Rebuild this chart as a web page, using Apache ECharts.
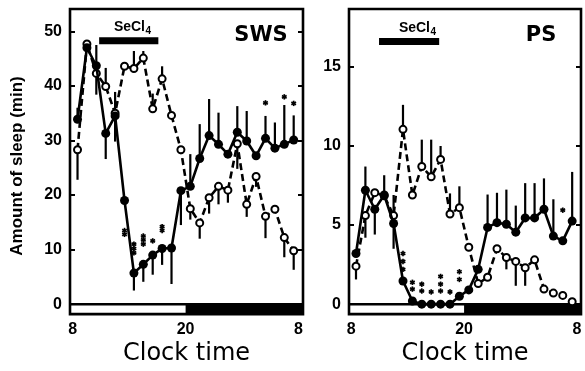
<!DOCTYPE html>
<html><head><meta charset="utf-8">
<script src="https://cdn.jsdelivr.net/npm/echarts@6/dist/echarts.min.js"></script>
<style>html,body{margin:0;padding:0;background:#fff}#c{width:585px;height:371px}</style>
</head><body><div id="c"></div>
<script>
// ---- data ----
const hours = [8.5,9.5,10.5,11.5,12.5,13.5,14.5,15.5,16.5,17.5,18.5,19.5,20.5,21.5,22.5,23.5,24.5,25.5,26.5,27.5,28.5,29.5,30.5,31.5];
const xTickValues = [8, 20, 32];
const swsTickValues = [0, 10, 20, 30, 40, 50];
const psTickValues = [0, 5, 10, 15];
const lightStart = 8, darkStart = 20;

// SWS (min/h)
const swsSeCl4 = [33.9,47.0,43.7,31.3,34.5,19.0,5.7,7.3,9.0,10.2,10.3,20.8,21.6,26.7,30.9,29.3,27.5,31.5,29.9,27.2,30.4,28.6,29.3,30.1];
const swsSeCl4Err = [36,null,47.5,26.6,38.9,null,2.5,4.1,5.4,7.2,3.7,14.5,27.5,33.0,37.6,35.1,null,36.3,35.4,null,34.5,33.3,36.5,34.6];
const swsControl = [28.3,47.7,42.3,39.9,35.0,43.6,43.2,45.1,35.8,41.3,34.6,28.3,17.5,14.9,19.5,21.6,20.9,29.4,18.3,23.4,16.1,17.4,12.2,9.8];
const swsControlErr = [22.8,null,38.4,43.3,29.8,null,46.4,46.4,38.6,43.6,null,null,15.5,12.0,16.6,18.3,18.6,24.8,16.0,21.5,12.1,null,8.6,6.3];
const swsStars = [[13.5,13.5],[13.5,12.8],[14.5,11.0],[14.5,10.2],[14.5,9.4],[15.5,12.5],[15.5,11.8],[15.5,11.0],[16.5,11.6],[17.5,14.2],[17.5,13.5],[28.5,36.9],[30.5,38.0],[31.5,36.8]];
const swsInfusion = [10.8, 17.1, 48.3];

// PS (min/h)
const psSeCl4 = [3.2,7.2,6.0,6.9,5.1,1.46,0.2,0,0,0,0,0.5,0.9,2.2,4.85,5.15,5.05,4.55,5.45,5.45,6.0,4.3,4.0,5.25];
const psSeCl4Err = [null,8.7,4.4,8.15,3.5,null,null,null,null,null,null,null,null,null,6.93,7.04,7.24,6.23,7.65,7.65,7.95,6.63,null,8.36];
const psControl = [2.4,5.6,7.05,6.85,5.6,11.05,6.9,8.7,8.05,9.15,5.7,6.1,3.6,1.3,1.7,3.5,2.95,2.7,2.3,2.8,0.95,0.7,0.55,0.15];
const psControlErr = [1.56,4.2,null,null,6.9,12.6,null,10.4,10.4,10.0,7.0,7.45,null,null,null,null,2.2,1.16,1.16,null,null,null,null,null];
const psStars = [[13.5,3.2],[13.5,2.7],[13.5,2.2],[14.5,1.38],[14.5,0.95],[15.5,1.26],[15.5,0.83],[16.5,0.77],[17.5,1.75],[17.5,1.26],[17.5,0.83],[18.5,0.77],[19.5,2.05],[19.5,1.56],[30.5,5.94]];
const psInfusion = [10.95, 17.35, 16.6];

// ---- rendering ----
const FONT = '"Liberation Sans", Arial, sans-serif';
const chart = echarts.init(document.getElementById('c'), null, {renderer:'canvas'});

function errData(vals, tips){
  const out = [];
  hours.forEach((h,i)=>{ if(tips[i]!=null) out.push([h, vals[i], tips[i]]); });
  return out;
}
function errRender(params, api){
  const p1 = api.coord([api.value(0), api.value(1)]);
  const p2 = api.coord([api.value(0), api.value(2)]);
  return {type:'line', shape:{x1:p1[0],y1:p1[1],x2:p2[0],y2:p2[1]}, style:{stroke:'#000', lineWidth:2.2}};
}
function starRender(params, api){
  const p = api.coord([api.value(0), api.value(1)]);
  const r = 2.7, ch = [];
  [90, 30, 150].forEach(a=>{
    const rad = a*Math.PI/180, dx = r*Math.cos(rad), dy = r*Math.sin(rad);
    ch.push({type:'line', shape:{x1:p[0]-dx,y1:p[1]-dy,x2:p[0]+dx,y2:p[1]+dy}, style:{stroke:'#000', lineWidth:1.7}});
  });
  return {type:'group', children: ch};
}
function ldRender(params, api){
  const cs = params.coordSys;
  const y0 = api.coord([lightStart, 0])[1];
  const xd = api.coord([darkStart, 0])[0];
  return {type:'group', children:[
    {type:'rect', shape:{x:xd, y:y0, width:cs.x+cs.width-xd, height:cs.y+cs.height-y0}, style:{fill:'#000'}},
    {type:'line', shape:{x1:cs.x, y1:y0, x2:cs.x+cs.width, y2:y0}, style:{stroke:'#000', lineWidth:2.5}}
  ]};
}
function infRender(params, api){
  const a = api.coord([api.value(0), api.value(2)]);
  const b = api.coord([api.value(1), api.value(2)]);
  return {type:'line', shape:{x1:a[0],y1:a[1],x2:b[0],y2:b[1]}, style:{stroke:'#000', lineWidth:7}};
}

function xAxisFor(gi, min, max){
  return {type:'value', gridIndex:gi, min:min, max:max,
    axisLine:{show:false}, axisTick:{show:false}, splitLine:{show:false},
    axisLabel:{customValues:xTickValues, formatter:v=> v===32?'8':String(v), color:'#000',
      fontFamily:FONT, fontWeight:'bold', fontSize:16, margin:7},
    name:'Clock time', nameLocation:'middle', nameGap:19,
    nameTextStyle:{fontFamily:'"DejaVu Sans", sans-serif', fontSize:24, color:'#000', verticalAlign:'top'}};
}
function yAxisFor(gi, min, max, ticks, showLabel){
  return {type:'value', gridIndex:gi, min:min, max:max, position: showLabel?'left':'right',
    axisLine:{show:false}, splitLine:{show:false},
    axisTick:{show:true, inside:true, length:5, customValues:ticks, lineStyle:{color:'#000', width:2}},
    axisLabel:{show:showLabel, customValues:ticks, color:'#000', fontFamily:FONT, fontWeight:'bold', fontSize:16, margin:8}};
}

function panelSeries(xi, yi, solid, solidErr, ctrl, ctrlErr, stars, inf){
  return [
    {type:'custom', xAxisIndex:xi, yAxisIndex:yi, data:[[0]], renderItem:ldRender, silent:true, z:1},
    {type:'custom', xAxisIndex:xi, yAxisIndex:yi, data:errData(ctrl, ctrlErr), renderItem:errRender, z:2},
    {type:'custom', xAxisIndex:xi, yAxisIndex:yi, data:errData(solid, solidErr), renderItem:errRender, z:2},
    {type:'line', xAxisIndex:xi, yAxisIndex:yi, data:hours.map((h,i)=>[h, ctrl[i]]),
      symbol:'emptyCircle', symbolSize:7, itemStyle:{color:'#000', borderWidth:2.2},
      lineStyle:{color:'#000', width:2.6, type:[7,4]}, z:3},
    {type:'line', xAxisIndex:xi, yAxisIndex:yi, data:hours.map((h,i)=>[h, solid[i]]),
      symbol:'circle', symbolSize:9, itemStyle:{color:'#000'},
      lineStyle:{color:'#000', width:2.6}, z:4},
    {type:'custom', xAxisIndex:xi, yAxisIndex:yi, data:stars, renderItem:starRender, z:5},
    {type:'custom', xAxisIndex:xi, yAxisIndex:yi, data:[inf], renderItem:infRender, z:5}
  ];
}

function secl(xRight, y){
  return [
    {type:'text', x:xRight, y:y, style:{text:'SeCl', fill:'#000', font:'bold 14px ' + FONT, textAlign:'right', textVerticalAlign:'middle'}},
    {type:'text', x:xRight+0.5, y:y+4, style:{text:'4', fill:'#000', font:'bold 10px ' + FONT, textAlign:'left', textVerticalAlign:'middle'}}
  ];
}

const gridStyle = {show:true, borderColor:'#000', borderWidth:2.6, backgroundColor:'transparent'};
chart.setOption({
  animation:false,
  grid:[
    Object.assign({left:70, top:9, width:233, height:317}, gridStyle),
    Object.assign({left:349, top:9, width:232, height:317}, gridStyle)
  ],
  xAxis:[ xAxisFor(0, 7.70, 32.49), xAxisFor(1, 7.755, 32.44) ],
  yAxis:[
    yAxisFor(0, -1.82, 54.1, swsTickValues, true),
    yAxisFor(0, -1.82, 54.1, swsTickValues, false),
    yAxisFor(1, -0.63, 18.66, psTickValues, true),
    yAxisFor(1, -0.63, 18.66, psTickValues, false)
  ],
  series:[].concat(
    panelSeries(0, 0, swsSeCl4, swsSeCl4Err, swsControl, swsControlErr, swsStars, swsInfusion),
    panelSeries(1, 2, psSeCl4, psSeCl4Err, psControl, psControlErr, psStars, psInfusion),
    [{type:'custom', xAxisIndex:0, yAxisIndex:1, data:[], renderItem:()=>null},
     {type:'custom', xAxisIndex:1, yAxisIndex:3, data:[], renderItem:()=>null}]
  ),
  graphic:[
    {type:'text', x:17, y:166, rotation:Math.PI/2, style:{text:'Amount of sleep (min)', fill:'#000',
      font:'bold 17px ' + FONT, textAlign:'center', textVerticalAlign:'middle'}},
    {type:'text', x:261, y:36, style:{text:'SWS', fill:'#000', font:'bold 21px "DejaVu Sans", sans-serif', textAlign:'center', textVerticalAlign:'middle'}},
    {type:'text', x:541, y:36, style:{text:'PS', fill:'#000', font:'bold 21px "DejaVu Sans", sans-serif', textAlign:'center', textVerticalAlign:'middle'}}
  ].concat(secl(145, 27), secl(430, 28))
});
</script></body></html>
